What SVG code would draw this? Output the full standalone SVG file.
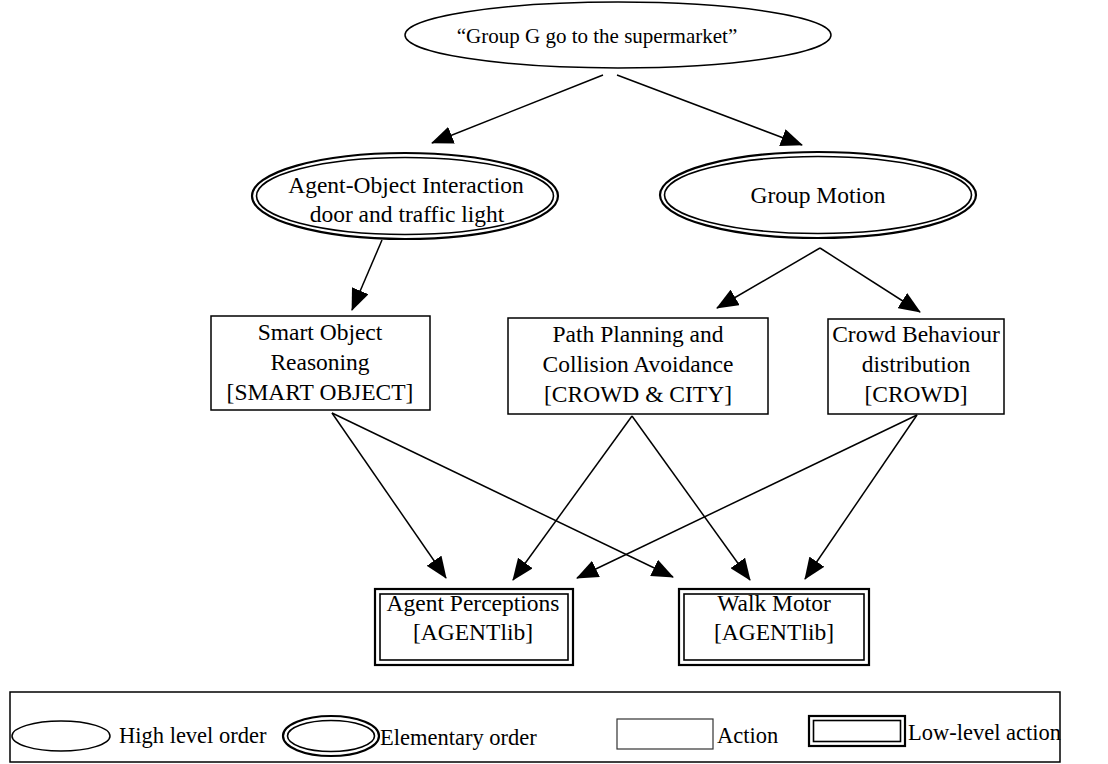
<svg xmlns="http://www.w3.org/2000/svg" width="1108" height="764" viewBox="0 0 1108 764">
<style>
text{font-family:"Liberation Serif","Times New Roman",serif;fill:#000}
.n{font-size:23.5px;text-anchor:middle}
.t{font-size:21px;text-anchor:middle}
.lg{font-size:22.5px}
.s{fill:#fff;stroke:#000;stroke-width:1.5}
.o{fill:#fff;stroke:#000;stroke-width:2.2}
.i{fill:none;stroke:#000;stroke-width:1.6}
.c line{stroke:#000;stroke-width:1.5;marker-end:url(#ah)}
</style>
<defs>
<marker id="ah" markerUnits="userSpaceOnUse" markerWidth="22" markerHeight="18" viewBox="0 0 22 18" refX="21" refY="9" orient="auto">
<path d="M0,0 L22,9 L0,18 z" fill="#000"/>
</marker>
</defs>
<rect width="1108" height="764" fill="#fff"/>
<g id="connectors" class="c">
<line x1="603" y1="75" x2="432" y2="143"/>
<line x1="617" y1="75" x2="802" y2="145"/>
<line x1="382" y1="240" x2="352" y2="310"/>
<line x1="820" y1="248" x2="717" y2="308"/>
<line x1="820" y1="248" x2="920" y2="312"/>
<line x1="332" y1="413" x2="446" y2="578"/>
<line x1="332" y1="413" x2="673" y2="577"/>
<line x1="632" y1="416" x2="513" y2="580"/>
<line x1="632" y1="416" x2="750" y2="580"/>
<line x1="917" y1="415" x2="577" y2="578"/>
<line x1="917" y1="415" x2="805" y2="579"/>
</g>
<g id="top">
<ellipse class="s" cx="618" cy="35" rx="213" ry="33"/>
<text class="t" x="597" y="43">“Group G go to the supermarket”</text>
</g>
<g id="agentObject">
<ellipse class="o" cx="405" cy="196" rx="153" ry="43"/>
<ellipse class="i" cx="405" cy="196" rx="148.5" ry="38.5"/>
<text class="n" x="406" y="193">Agent-Object Interaction</text>
<text class="n" x="407" y="222">door and traffic light</text>
</g>
<g id="groupMotion">
<ellipse class="o" cx="818" cy="195" rx="158" ry="43"/>
<ellipse class="i" cx="818" cy="195" rx="153.5" ry="38.5"/>
<text class="n" x="818" y="203">Group Motion</text>
</g>
<g id="smartObject">
<rect class="s" x="211" y="316" width="219" height="94"/>
<text class="n" x="320" y="340">Smart Object</text>
<text class="n" x="320" y="370">Reasoning</text>
<text class="n" x="320" y="400">[SMART OBJECT]</text>
</g>
<g id="pathPlanning">
<rect class="s" x="508" y="318" width="260" height="96"/>
<text class="n" x="638" y="342">Path Planning and</text>
<text class="n" x="638" y="372">Collision Avoidance</text>
<text class="n" x="638" y="402">[CROWD &amp; CITY]</text>
</g>
<g id="crowd">
<rect class="s" x="828" y="319" width="176" height="95"/>
<text class="n" x="916" y="342">Crowd Behaviour</text>
<text class="n" x="916" y="372">distribution</text>
<text class="n" x="916" y="402">[CROWD]</text>
</g>
<g id="agentPerceptions">
<rect class="o" x="375" y="589" width="198" height="76" stroke-width="3"/>
<rect class="i" x="380" y="594" width="188" height="66"/>
<text class="n" x="473" y="611">Agent Perceptions</text>
<text class="n" x="473" y="640">[AGENTlib]</text>
</g>
<g id="walkMotor">
<rect class="o" x="679" y="589" width="190" height="76" stroke-width="3"/>
<rect class="i" x="684" y="594" width="180" height="66"/>
<text class="n" x="774" y="611">Walk Motor</text>
<text class="n" x="774" y="640">[AGENTlib]</text>
</g>
<g id="legend">
<rect x="10" y="692" width="1050" height="70" fill="none" stroke="#000" stroke-width="1.5"/>
<ellipse class="s" cx="61" cy="736" rx="49" ry="15"/>
<text class="lg" x="119" y="743">High level order</text>
<ellipse class="o" cx="331" cy="736" rx="48" ry="20"/>
<ellipse class="i" cx="331" cy="736" rx="43.5" ry="15.5"/>
<text class="lg" x="380" y="745">Elementary order</text>
<rect x="617" y="719" width="96" height="30" fill="#fff" stroke="#333" stroke-width="1.2"/>
<text class="lg" x="717" y="743">Action</text>
<rect class="o" x="809" y="716" width="96" height="30" stroke-width="2.5"/>
<rect class="i" x="813.5" y="720.5" width="87" height="21"/>
<text class="lg" x="908" y="740">Low-level action</text>
</g>
</svg>
